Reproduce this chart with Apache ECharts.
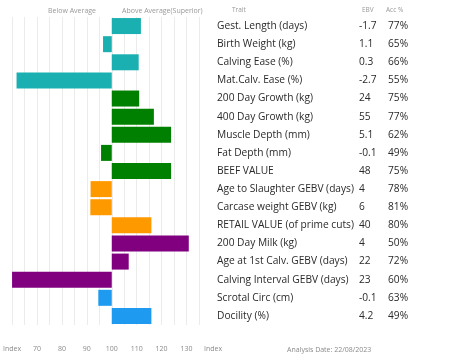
<!DOCTYPE html>
<html><head><meta charset="utf-8">
<script src="https://cdn.jsdelivr.net/npm/echarts@6/dist/echarts.min.js"></script>
<style>html,body{margin:0;padding:0;background:#fff}#c{width:453px;height:362px}</style>
</head><body><div id="c"></div>
<script>
const traits = ['Gest. Length (days)','Birth Weight (kg)','Calving Ease (%)','Mat.Calv. Ease (%)','200 Day Growth (kg)','400 Day Growth (kg)','Muscle Depth (mm)','Fat Depth (mm)','BEEF VALUE','Age to Slaughter GEBV (days)','Carcase weight GEBV (kg)','RETAIL VALUE (of prime cuts)','200 Day Milk (kg)','Age at 1st Calv. GEBV (days)','Calving Interval GEBV (days)','Scrotal Circ (cm)','Docility (%)'];
const ebv = ['-1.7','1.1','0.3','-2.7','24','55','5.1','-0.1','48','4','6','40','4','22','23','-0.1','4.2'];
const acc = ['77%','65%','66%','55%','75%','77%','62%','49%','75%','78%','81%','80%','50%','72%','60%','63%','49%'];
const indexValues = [111.7,96.5,110.8,61.8,111,116.9,123.8,95.7,123.8,91.5,91.4,115.9,130.9,106.8,59.8,94.6,115.9];
const groups = [0,0,0,0,1,1,1,1,1,2,2,2,3,3,3,4,4];
const groupColors = ['#1AAFB0','#008000','#FF9900','#800080','#1E9BF0'];
const tickLabels = {60:'Index',70:'70',80:'80',90:'90',100:'100',110:'110',120:'120',130:'130'};
const baseIndex = 100;

const chart = echarts.init(document.getElementById('c'), null, {renderer:'canvas'});
const font = '"Open Sans", sans-serif';
chart.setOption({
  animation:false,
  grid:{left:7, right:254, top:17, bottom:37, containLabel:false},
  xAxis:{type:'value', min:60-baseIndex, max:135-baseIndex, interval:5,
    axisLine:{show:false}, axisTick:{show:false},
    splitLine:{show:true, lineStyle:{color:'#ebebeb', width:1}},
    axisLabel:{margin:20, color:'#8a8a8a', fontSize:7, fontFamily:font,
      formatter:function(v){ const k=Math.round(v+baseIndex); if(k===135) return '{r|Index}'; return tickLabels[k]||''; },
      rich:{r:{fontSize:7, color:'#8a8a8a', fontFamily:font, padding:[0,0,0,28]}}}
  },
  yAxis:{type:'category', inverse:true, position:'right', data:traits,
    axisLine:{show:false}, axisTick:{show:false}, splitLine:{show:false},
    axisLabel:{margin:18, align:'left', fontFamily:font, color:'#2a2a2a', fontSize:10.2,
      formatter:function(v, i){ return '{a|'+v+'}{b|'+ebv[i]+'}{c|'+acc[i]+'}'; },
      rich:{a:{width:142, fontSize:10.2, color:'#2a2a2a', fontFamily:font},
            b:{width:29, fontSize:10.2, color:'#2a2a2a', fontFamily:font},
            c:{width:40, fontSize:10.2, color:'#2a2a2a', fontFamily:font}}}
  },
  series:[{type:'bar', barWidth:16,
    data:indexValues.map((v,i)=>({value:+(v-baseIndex).toFixed(2), itemStyle:{color:groupColors[groups[i]]}}))}],
  graphic:[
    {type:'text', left:48, top:7, style:{text:'Below Average', fontSize:7, fill:'#999', fontFamily:font}},
    {type:'text', left:122, top:7, style:{text:'Above Average(Superior)', fontSize:7, fill:'#999', fontFamily:font}},
    {type:'text', left:232, top:7, style:{text:'Trait', fontSize:6.5, fill:'#999', fontFamily:font}},
    {type:'text', left:362, top:7, style:{text:'EBV', fontSize:6.5, fill:'#999', fontFamily:font}},
    {type:'text', left:386, top:7, style:{text:'Acc %', fontSize:6.5, fill:'#999', fontFamily:font}},
    {type:'text', left:287, top:346, style:{text:'Analysis Date: 22/08/2023', fontSize:7, fill:'#8a8a8a', fontFamily:font}}
  ]
});
</script></body></html>
